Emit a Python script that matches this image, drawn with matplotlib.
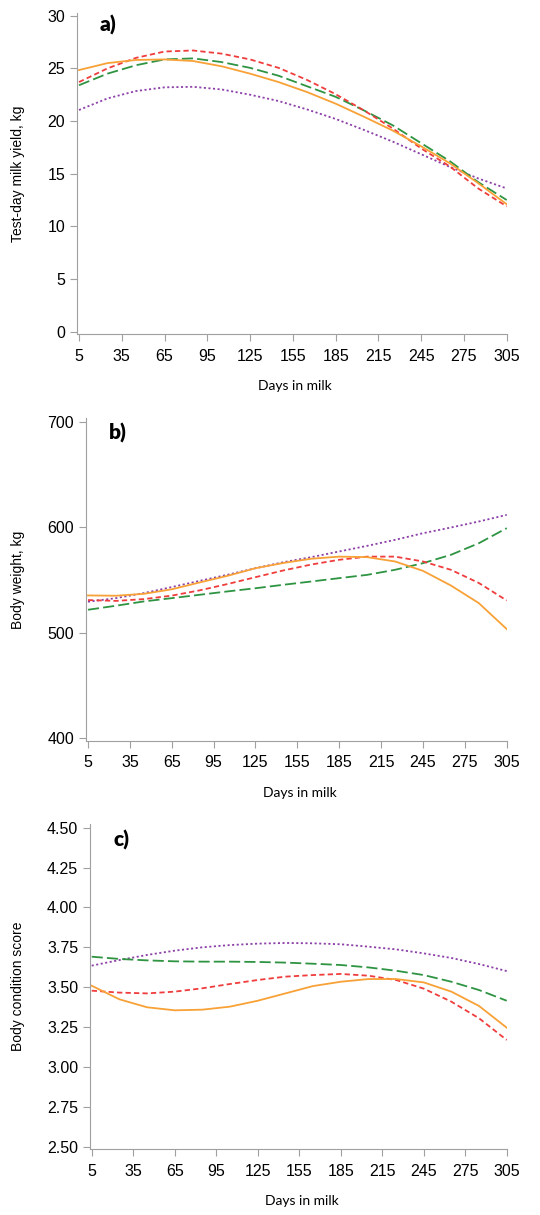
import numpy as np
from matplotlib import pyplot as plt

plt.rcParams['lines.scale_dashes'] = False
plt.rcParams['font.family'] = ['Liberation Sans', 'DejaVu Sans']

days = [5, 25, 45, 65, 85, 105, 125, 145, 165, 185, 205, 225, 245, 265, 285, 305]
xticks = [5, 35, 65, 95, 125, 155, 185, 215, 245, 275, 305]

# a) test-day milk yield, kg
milk_orange = [24.84, 25.5, 25.8, 25.85, 25.7, 25.2, 24.5, 23.7, 22.75, 21.65, 20.4, 19.1, 17.6, 16.0, 14.1, 12.1]
milk_red = [23.7, 25.0, 26.0, 26.6, 26.7, 26.4, 25.85, 25.05, 23.9, 22.55, 21.0, 19.3, 17.4, 15.7, 13.6, 11.9]
milk_green = [23.4, 24.5, 25.3, 25.85, 25.95, 25.6, 25.05, 24.3, 23.3, 22.3, 21.0, 19.6, 17.9, 16.2, 14.2, 12.5]
milk_purple = [21.05, 22.15, 22.85, 23.2, 23.25, 23.0, 22.5, 21.9, 21.1, 20.2, 19.15, 18.05, 16.85, 15.65, 14.55, 13.6]

# b) body weight, kg
bw_orange = [535.2, 534.9, 536.7, 541, 547.5, 553.8, 561, 566, 570, 572, 571.5, 567.4, 558.5, 544.6, 527.9, 503.3]
bw_red = [530.8, 530, 531.7, 535, 540, 546, 552.5, 558.9, 564.5, 569, 572, 572, 567.4, 559.5, 547, 530.4]
bw_green = [521.6, 525.4, 529.5, 532.6, 535.8, 539, 542, 545.3, 548.4, 551.6, 554.7, 559.5, 565.8, 573.7, 584.7, 599]
bw_purple = [529.2, 532.6, 537.4, 543.1, 549, 554.8, 561, 566.7, 571.5, 576.9, 582.2, 587.9, 594.2, 599.6, 605.3, 611.6]

# c) body condition score
bcs_orange = [3.509, 3.424, 3.374, 3.355, 3.359, 3.378, 3.415, 3.461, 3.507, 3.534, 3.551, 3.551, 3.530, 3.472, 3.382, 3.246]
bcs_red = [3.478, 3.466, 3.461, 3.472, 3.493, 3.520, 3.545, 3.566, 3.576, 3.583, 3.572, 3.545, 3.491, 3.409, 3.305, 3.169]
bcs_green = [3.691, 3.677, 3.668, 3.662, 3.660, 3.660, 3.658, 3.654, 3.647, 3.639, 3.624, 3.603, 3.576, 3.534, 3.482, 3.415]
bcs_purple = [3.635, 3.670, 3.702, 3.729, 3.750, 3.764, 3.773, 3.777, 3.775, 3.769, 3.754, 3.737, 3.712, 3.683, 3.645, 3.601]

c_orange = '#F8A136'
c_red = '#EF3D3D'
c_green = '#2E9442'
c_purple = '#8C40A8'
grey = '#A0A0A0'

W, H = 540, 1215
fig = plt.figure(figsize=(5.4, 12.15), dpi=100)

def px_axes(left, top, right, bottom):
    return fig.add_axes([left/W, 1-bottom/H, (right-left)/W, (bottom-top)/H])

def style(ax, yticks, fmt):
    for s in ['top', 'right']:
        ax.spines[s].set_visible(False)
    for s in ['left', 'bottom']:
        ax.spines[s].set_color(grey)
        ax.spines[s].set_linewidth(0.8)
    ax.set_xticks(xticks)
    ax.set_yticks(yticks)
    ax.set_yticklabels([fmt.format(v) for v in yticks])
    ax.tick_params(axis='both', color=grey, length=5, width=0.8, labelsize=11.5)
    ax.tick_params(axis='x', pad=5.5)
    ax.tick_params(axis='y', pad=3.5)

def draw(ax, o, r, g, p):
    ax.plot(days, p, color=c_purple, lw=1.3, dashes=(1.5, 1.8))
    ax.plot(days, g, color=c_green, lw=1.3, dashes=(8, 3))
    ax.plot(days, r, color=c_red, lw=1.3, dashes=(3.8, 2.3))
    ax.plot(days, o, color=c_orange, lw=1.3)

panels = [
    ((77, 13.3, 507, 334), (3.6, 305.2), (-0.22, 30.23), [0, 5, 10, 15, 20, 25, 30], '{:g}',
     (milk_orange, milk_red, milk_green, milk_purple), 'Test-day milk yield, kg', 'a)', (108, 25)),
    ((86, 418.3, 507, 740.7), (3.57, 305.2), (397.4, 703.2), [400, 500, 600, 700], '{:g}',
     (bw_orange, bw_red, bw_green, bw_purple), 'Body weight, kg', 'b)', (117.5, 433)),
    ((90, 824.3, 507, 1149), (3.77, 305.2), (2.4856, 4.521), [2.5, 2.75, 3.0, 3.25, 3.5, 3.75, 4.0, 4.25, 4.5], '{:.2f}',
     (bcs_orange, bcs_red, bcs_green, bcs_purple), 'Body condition score', 'c)', (121, 840)),
]

for box, xl, yl, yt, fmt, series, ylab, tag, tagpos in panels:
    ax = px_axes(*box)
    draw(ax, *series)
    ax.set_xlim(*xl)
    ax.set_ylim(*yl)
    style(ax, yt, fmt)
    left, top, right, bottom = box
    fig.text(18.3/W, 1-(top+bottom)/2/H, ylab, rotation=90, ha='center', va='center',
             fontsize=10)
    fig.text((left+right)/2/W + 3/W, 1-(bottom+52)/H, 'Days in milk', ha='center', va='center',
             fontsize=10, family='Lato')
    fig.text(tagpos[0]/W, 1-tagpos[1]/H, tag, ha='center', va='center',
             fontsize=15, fontweight='heavy', family='Lato')

fig.savefig('out.png', dpi=100)
